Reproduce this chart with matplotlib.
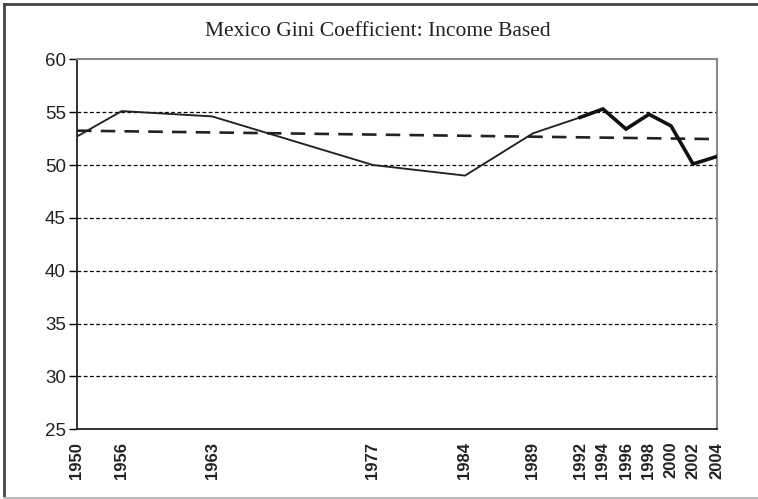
import numpy as np
import matplotlib
matplotlib.use("Agg")
import matplotlib.pyplot as plt
from matplotlib.lines import Line2D

# ---- data ----
title = "Mexico Gini Coefficient: Income Based"
tick_years = [1950, 1956, 1963, 1977, 1984, 1989, 1992, 1994, 1996, 1998, 2000, 2002, 2004]
early_years = [1950, 1956, 1963, 1977, 1984, 1989, 1992]
early_gini = [52.7, 55.1, 54.6, 50.0, 49.0, 53.0, 54.5]
late_years = [1992, 1994, 1996, 1998, 2000, 2002, 2004]
late_gini = [54.5, 55.3, 53.4, 54.8, 53.7, 50.1, 50.8]
trend_years = [1950, 2004]
trend_gini = [53.25, 52.45]
y_ticks = [25, 30, 35, 40, 45, 50, 55, 60]
grid_values = [30, 35, 40, 45, 50, 55]

# ---- axis layout (the reference spaces its year ticks unevenly) ----
tick_frac = np.array([0.0, 44.7, 135.0, 296.0, 388.0, 456.0, 503.0, 526.0,
                      549.0, 572.0, 594.0, 616.0, 639.7]) / 639.7

def fwd(x):
    return np.interp(x, tick_years, tick_frac)

def inv(u):
    return np.interp(u, tick_frac, tick_years)

W, H = 758, 499
fig = plt.figure(figsize=(W / 100, H / 100), dpi=100)
left, right, top, bottom = 77, 716.7, 59.3, 429.3
ax = fig.add_axes([left / W, 1 - bottom / H, (right - left) / W, (bottom - top) / H])

ax.set_xscale('function', functions=(fwd, inv))
ax.set_xlim(1950, 2004)
ax.set_ylim(25, 60)

for g in grid_values:
    ax.axhline(g, color='black', lw=0.9, linestyle=(0, (3, 2)), zorder=1)

ax.plot(trend_years, trend_gini, color='#222222', lw=1.9, linestyle=(0, (5.5, 3.5)),
        zorder=2, solid_capstyle='butt', dash_capstyle='butt')
ax.plot(early_years, early_gini, color='#222222', lw=1.35, zorder=3)
ax.plot(late_years, late_gini, color='#111111', lw=2.6, zorder=3,
        solid_joinstyle='miter')

ax.set_xticks(tick_years)
ax.set_xticklabels([str(y) for y in tick_years], rotation=90, fontweight='bold',
                   fontsize=12, family='Liberation Sans', va='top', color='#222222')
ax.tick_params(axis='x', length=0, pad=9)
ax.set_yticks(y_ticks)
ax.set_yticklabels([str(v) for v in y_ticks], fontsize=13.5, family='Liberation Sans',
                   color='#222222')
ax.tick_params(axis='y', length=5.5, width=1, pad=2.5, direction='out')
ax.minorticks_off()

for s in ['left', 'bottom']:
    ax.spines[s].set_color('#222222')
    ax.spines[s].set_linewidth(1.3)
for s in ['top', 'right']:
    ax.spines[s].set_color('#888888')
    ax.spines[s].set_linewidth(1.5)

fig.text(378 / W, 1 - 32 / H, title, ha='center', va='center',
         family='Liberation Serif', fontsize=15.5, color='#222222')

# outer border of the picture
fig.add_artist(Line2D([4 / W, 1.0], [1 - 4 / H, 1 - 4 / H], color='#444444', lw=2,
                      transform=fig.transFigure))
fig.add_artist(Line2D([4 / W, 4 / W], [1 - 4 / H, 1 - 498 / H], color='#444444', lw=2,
                      transform=fig.transFigure))
fig.add_artist(Line2D([4 / W, 1.0], [1 - 497.5 / H, 1 - 497.5 / H], color='#bbbbbb', lw=1.5,
                      transform=fig.transFigure))

fig.savefig('out.png', dpi=100)
